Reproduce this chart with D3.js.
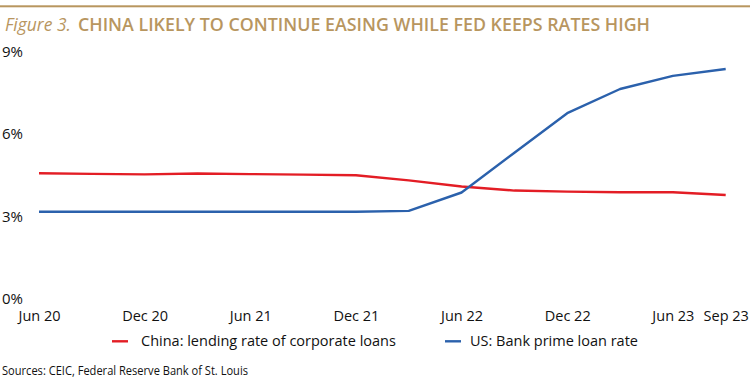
<!DOCTYPE html>
<html>
<head>
<meta charset="utf-8">
<script src="https://cdn.jsdelivr.net/npm/d3@7"></script>
<style>
  html, body { margin: 0; padding: 0; background: #fff; }
  svg { display: block; }
</style>
</head>
<body>
<div id="chart"></div>
<script>
// ---- data ----
const quarters = ["Jun 20","Sep 20","Dec 20","Mar 21","Jun 21","Sep 21","Dec 21",
                  "Mar 22","Jun 22","Sep 22","Dec 22","Mar 23","Jun 23","Sep 23"];
const chinaRate = [4.65, 4.63, 4.61, 4.64, 4.62, 4.60, 4.58,
                   4.39, 4.17, 4.02, 3.98, 3.96, 3.96, 3.86];
const usPrime   = [3.25, 3.25, 3.25, 3.25, 3.25, 3.25, 3.25,
                   3.28, 3.95, 5.40, 6.84, 7.72, 8.20, 8.45];
const xTickLabels = ["Jun 20","Dec 20","Jun 21","Dec 21","Jun 22","Dec 22","Jun 23","Sep 23"];
const yTicks = [0, 3, 6, 9];
const seriesNames = ["China: lending rate of corporate loans", "US: Bank prime loan rate"];
const seriesColors = ["#e31d25", "#2b61ac"];

const W = 750, H = 386;
const svg = d3.select("#chart").append("svg").attr("width", W).attr("height", H);

const gold = "#b8965f";
const font = "'Open Sans', sans-serif";
const ink = "#111";

// top rule
svg.append("rect").attr("x", 0).attr("y", 5.3).attr("width", W).attr("height", 2).attr("fill", gold);

// title
svg.append("text").attr("x", 5).attr("y", 30.7)
  .style("font-family", font).style("font-style", "italic").style("font-size", "17.5px")
  .attr("fill", gold).attr("textLength", 66).attr("lengthAdjust", "spacingAndGlyphs")
  .text("Figure 3.");
svg.append("text").attr("x", 78).attr("y", 30.7)
  .style("font-family", font).style("font-size", "17.5px").style("font-weight", 600)
  .attr("fill", gold).attr("textLength", 572).attr("lengthAdjust", "spacingAndGlyphs")
  .text("CHINA LIKELY TO CONTINUE EASING WHILE FED KEEPS RATES HIGH");

// scales
const x = d3.scalePoint().domain(quarters).range([39, 725.7]);
const y = d3.scaleLinear().domain([0, 9]).range([300.9, 53.9]);

// y labels
const yAxis = d3.axisLeft(y).tickValues(yTicks).tickFormat(d => d + "%").tickSize(0).tickPadding(0);
const gy = svg.append("g").attr("transform", "translate(2,0)").call(yAxis);
gy.select(".domain").remove();
gy.attr("font-size", null).attr("font-family", null);
gy.selectAll("text")
  .attr("text-anchor", "start").attr("x", 0).attr("dy", null).attr("y", 2.6)
  .style("font-family", font).style("font-size", "15px").attr("fill", ink);

// x labels
const xAxis = d3.axisBottom(x).tickValues(xTickLabels).tickSize(0).tickPadding(0);
const gx = svg.append("g").call(xAxis);
gx.select(".domain").remove();
gx.attr("font-size", null).attr("font-family", null);
gx.selectAll("text")
  .attr("y", 320.7).attr("dy", null)
  .style("font-family", font).style("font-size", "14.5px").attr("fill", ink);

// lines
const line = d3.line().x((d, i) => x(quarters[i])).y(d => y(d));
[chinaRate, usPrime].forEach((s, k) => {
  svg.append("path").datum(s)
    .attr("d", line)
    .attr("fill", "none")
    .attr("stroke", seriesColors[k])
    .attr("stroke-width", 2.4)
    .attr("stroke-linejoin", "round");
});

// legend
const legendPos = [{lx: 112, tx: 141}, {lx: 445, tx: 470}];
seriesNames.forEach((n, k) => {
  const p = legendPos[k];
  svg.append("line").attr("x1", p.lx).attr("x2", p.lx + 16)
    .attr("y1", 341.3).attr("y2", 341.3)
    .attr("stroke", seriesColors[k]).attr("stroke-width", 2.4);
  svg.append("text").attr("x", p.tx).attr("y", 346)
    .style("font-family", font).style("font-size", "14.5px").attr("fill", ink)
    .text(n);
});

// source
svg.append("text").attr("x", 2).attr("y", 375)
  .style("font-family", font).style("font-size", "12px").attr("fill", ink)
  .attr("textLength", 246).attr("lengthAdjust", "spacingAndGlyphs")
  .text("Sources: CEIC, Federal Reserve Bank of St. Louis");
</script>
</body>
</html>
